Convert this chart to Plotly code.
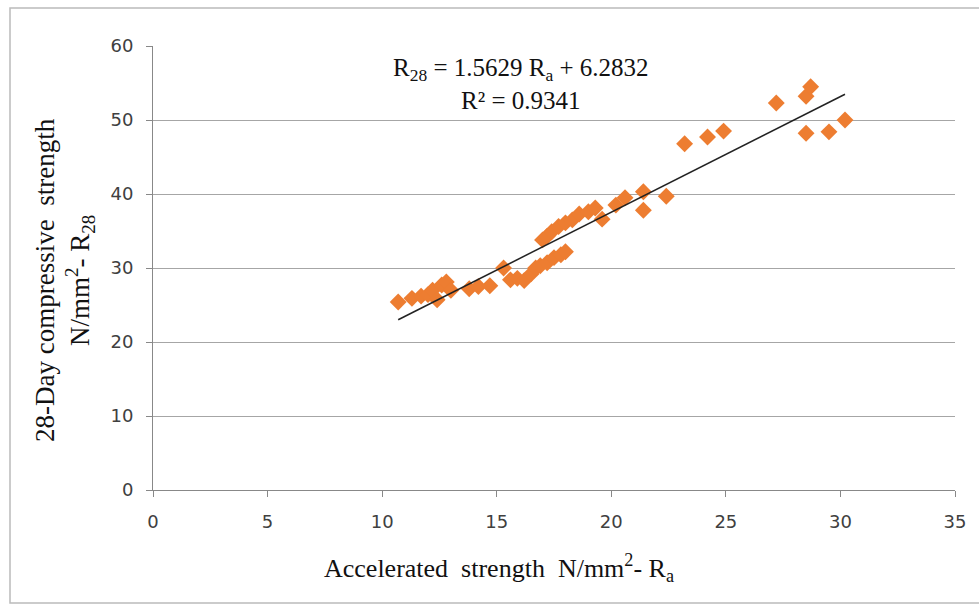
import plotly.graph_objects as go

accel = [10.7, 11.3, 11.7, 12.0, 12.2, 12.4, 12.6, 12.8, 13.0, 13.8, 14.2, 14.7,
         15.3, 15.6, 15.9, 16.2, 16.5, 16.7, 16.9, 17.2, 17.5, 17.8, 18.0,
         17.0, 17.2, 17.4, 17.7, 18.0, 18.3, 18.6, 19.0, 19.3, 19.6,
         20.2, 20.6, 21.4, 21.4, 22.4, 23.2, 24.2, 24.9, 27.2, 28.5, 28.7,
         28.5, 29.5, 30.2]
r28 = [25.4, 25.9, 26.2, 26.4, 27.0, 25.7, 27.7, 28.1, 27.0, 27.2, 27.5, 27.6,
       30.0, 28.4, 28.6, 28.3, 29.2, 30.0, 30.3, 30.7, 31.4, 31.8, 32.2,
       33.8, 34.3, 34.9, 35.6, 36.1, 36.5, 37.3, 37.6, 38.1, 36.6,
       38.5, 39.5, 40.3, 37.8, 39.7, 46.8, 47.7, 48.5, 52.3, 53.2, 54.5,
       48.2, 48.4, 50.0]

slope = 1.5629
intercept = 6.2832
trend_x = [min(accel), max(accel)]
trend_y = [slope * v + intercept for v in trend_x]

x_ticks = [0, 5, 10, 15, 20, 25, 30, 35]
y_ticks = [0, 10, 20, 30, 40, 50, 60]

fig = go.Figure()
fig.add_trace(go.Scatter(x=accel, y=r28, mode="markers",
                         marker=dict(symbol="diamond", size=13, color="#ED7D31",
                                     line=dict(width=0)),
                         showlegend=False))
fig.add_trace(go.Scatter(x=trend_x, y=trend_y, mode="lines",
                         line=dict(color="#222222", width=1.5),
                         showlegend=False))

L, R, T, B = 153, 24, 46, 116
W, H = 979, 606
pw, ph = W - L - R, H - T - B

def px(xp):
    return (xp - L) / pw

def py(yp):
    return (H - B - yp) / ph

tf = dict(family="DejaVu Sans", size=18, color="#404040")
fig.update_layout(
    width=W, height=H,
    margin=dict(l=L, r=R, t=T, b=B),
    paper_bgcolor="white", plot_bgcolor="white",
    font=tf,
    xaxis=dict(range=[0, 35], tickvals=x_ticks, showgrid=False, zeroline=False,
               showline=True, linecolor="#888888", linewidth=1,
               ticks="outside", ticklen=6, tickcolor="#888888",
               ticklabelstandoff=9, tickfont=tf),
    yaxis=dict(range=[0, 60], tickvals=y_ticks, showgrid=True, gridcolor="#a6a6a6",
               gridwidth=1, zeroline=False,
               showline=True, linecolor="#888888", linewidth=1,
               ticks="outside", ticklen=6, tickcolor="#888888",
               ticklabelstandoff=9, tickfont=tf),
    shapes=[dict(type="rect", xref="paper", yref="paper",
                 x0=px(10), x1=px(990), y0=py(8), y1=py(603),
                 line=dict(color="#bbbbbb", width=1.5), fillcolor="rgba(0,0,0,0)",
                 layer="below")],
    annotations=[
        dict(text="R<sub>28</sub> = 1.5629 R<sub>a</sub> + 6.2832<br>R² = 0.9341",
             xref="paper", yref="paper", x=px(521), y=py(84),
             xanchor="center", yanchor="middle", showarrow=False, align="center",
             font=dict(family="Liberation Serif", size=25, color="#111111")),
        dict(text="Accelerated&nbsp; strength&nbsp; N/mm<sup>2</sup>- R<sub>a</sub>",
             xref="paper", yref="paper", x=px(499), y=py(568),
             xanchor="center", yanchor="middle", showarrow=False,
             font=dict(family="Liberation Serif", size=26, color="#111111")),
        dict(text="28-Day compressive&nbsp; strength<br>N/mm<sup>2</sup>- R<sub>28</sub>",
             xref="paper", yref="paper", x=px(64), y=py(280),
             xanchor="center", yanchor="middle", showarrow=False, textangle=-90,
             align="center",
             font=dict(family="Liberation Serif", size=27, color="#111111")),
    ],
)

fig.write_html("out.html")
